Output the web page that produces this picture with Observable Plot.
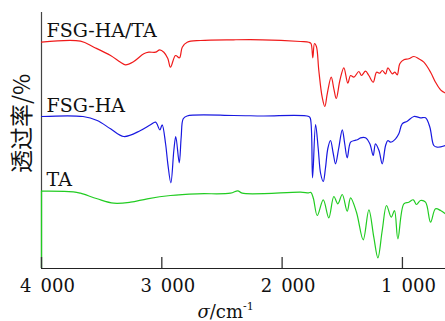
<!DOCTYPE html>
<html>
<head>
<meta charset="utf-8">
<script src="https://cdn.jsdelivr.net/npm/d3@7"></script>
<script src="https://cdn.jsdelivr.net/npm/@observablehq/plot@0.6"></script>
<style>
  html, body { margin: 0; padding: 0; background: #fff; }
  svg { display: block; }
</style>
</head>
<body>
<div id="chart"></div>
<script>
// Series names, colours
const seriesNames = ["FSG-HA/TA", "FSG-HA", "TA"];
const seriesColors = ["#f01a1a", "#1818e0", "#22cc22"];

// FSG-HA/TA (offset trace, arbitrary transmittance units)
const wnRed = [4000, 3676, 3565, 3426, 3343, 3302, 3233, 3150, 3108, 3052, 3017, 2983, 2950, 2928, 2886, 2853, 2830, 2789, 2678, 2404, 2165, 1847, 1778, 1760, 1745, 1731, 1715, 1695, 1667, 1645, 1625, 1592, 1570, 1550, 1520, 1487, 1454, 1431, 1404, 1362, 1340, 1307, 1279, 1243, 1215, 1188, 1168, 1140, 1121, 1085, 1063, 1043, 1022, 988, 947, 905, 864, 822, 766, 725, 683, 642];
const tRed  = [226.3, 227.3, 221.3, 213, 206.3, 203.7, 207, 214.7, 216.3, 216.3, 218.7, 216.3, 210, 201.3, 213, 210.7, 221.3, 226.3, 228, 228.7, 228.7, 227, 226.3, 225, 210.7, 225, 222, 198, 171.3, 162, 174.7, 191.3, 179.7, 170, 188, 200.7, 185.3, 193, 191.3, 197, 193, 197.3, 193, 186.3, 196.3, 195.3, 198, 194.7, 200.7, 194.7, 196.3, 193.7, 204.7, 208.7, 209.7, 212, 209.7, 206.3, 196.3, 186.3, 178.7, 175.3];

// FSG-HA
const wnBlue = [4000, 3655, 3537, 3426, 3316, 3177, 3094, 3052, 3016, 2997, 2969, 2950, 2925, 2900, 2884, 2855, 2839, 2822, 2790, 2404, 2165, 1778, 1765, 1747, 1722, 1700, 1680, 1658, 1640, 1620, 1598, 1575, 1556, 1530, 1500, 1480, 1459, 1431, 1398, 1375, 1348, 1307, 1271, 1243, 1224, 1195, 1168, 1140, 1121, 1099, 1057, 1030, 1002, 960, 905, 850, 808, 772, 739, 711, 642];
const tBlue  = [152, 152, 148, 139.7, 132, 138, 143.7, 146.3, 138.7, 143.7, 125, 104.7, 85.7, 118, 132, 105.7, 131.3, 149.7, 152.5, 153, 152.5, 152, 150, 90.7, 144, 120, 95, 87, 100, 120, 128, 115, 104.7, 120, 138.7, 125, 110.7, 126.3, 128, 128.7, 130.7, 130.7, 124.7, 113, 124.7, 118, 104.7, 123, 128, 126.3, 129.7, 134.7, 144.7, 147.3, 152, 150.7, 150.7, 141.3, 123, 121.3, 123];

// TA
const wnGreen = [4000, 3735, 3676, 3537, 3399, 3260, 3121, 2928, 2706, 2429, 2368, 2332, 1847, 1780, 1760, 1740, 1708, 1658, 1612, 1570, 1537, 1500, 1459, 1431, 1382, 1326, 1279, 1238, 1204, 1168, 1132, 1093, 1066, 1038, 988, 947, 910, 883, 850, 808, 766, 725, 683, 642];
const tGreen  = [77.3, 76.7, 75.3, 69.7, 65.3, 66.3, 69.7, 73, 74.7, 75.3, 77.7, 75.3, 76.3, 75.7, 76, 70, 53, 68.7, 50.7, 72, 64.7, 74, 57.3, 70.7, 56.3, 28.7, 58.7, 31.3, 10.7, 38, 63, 51.3, 58, 29.7, 64.7, 66.3, 68.7, 64, 68, 66.3, 46.3, 59.7, 58, 54.7];

// Axis ticks and labels
const xTicks = [4000, 3000, 2000, 1000];
const xDomain = [4000, 642];
const yDomain = [0, 256];
const yLabel = "透过率/%";
const xLabel = "σ/cm-1";

const series = [
  {name: seriesNames[0], wn: wnRed, t: tRed},
  {name: seriesNames[1], wn: wnBlue, t: tBlue},
  {name: seriesNames[2], wn: wnGreen, t: tGreen}
];
const rows = [];
series.forEach(s => s.wn.forEach((w, i) => rows.push({series: s.name, wn: w, t: s.t[i]})));
const labelRows = series.map(s => ({series: s.name, wn: s.wn[0], t: s.t[0]}));
const tickRows = xTicks.map(v => ({wn: v}));

const fmt = d => d3.format(",")(d).replace(",", "\u2002");
const FF = "DejaVu Serif";
const FFCJK = "Noto Sans CJK SC";

const chart = Plot.plot({
  width: 445,
  height: 321,
  marginLeft: 41,
  marginRight: 0,
  marginTop: 12,
  marginBottom: 53,
  style: {fontFamily: FF, fontSize: "18px", background: "#fff", color: "#111"},
  x: {domain: xDomain, axis: null},
  y: {domain: yDomain, axis: null},
  color: {domain: seriesNames, range: seriesColors},
  marks: [
    Plot.ruleX([xDomain[0]], {stroke: "#444", strokeWidth: 1.2}),
    // green trace starts from the baseline at the left edge
    Plot.ruleX([labelRows[2]], {x: "wn", y1: yDomain[0], y2: "t", stroke: seriesColors[2], strokeWidth: 1.3}),
    Plot.ruleY([yDomain[0]], {stroke: "#222", strokeWidth: 1.2}),
    Plot.ruleX(tickRows, {x: "wn", y1: () => yDomain[0], y2: () => yDomain[0] + 11, stroke: "#333", strokeWidth: 1.3}),
    Plot.line(rows, {x: "wn", y: "t", z: "series", stroke: "series", strokeWidth: 1.2, curve: "catmull-rom"}),
    Plot.axisX({ticks: xTicks, tickSize: 0, tickPadding: 11, tickFormat: fmt, label: null, fontSize: 18, fontFamily: FF, dx: 6, fill: "#111"}),
    Plot.text(labelRows, {x: "wn", y: "t", text: "series", textAnchor: "start", lineAnchor: "bottom", dx: 5, dy: -5, fontSize: 19, fontFamily: FF, fill: "#111"}),
    Plot.text([yLabel], {frameAnchor: "left", textAnchor: "middle", rotate: -90, dx: -19, dy: -17, fontSize: 23, fontFamily: FFCJK, fill: "#111"}),
    Plot.text([xLabel], {frameAnchor: "bottom", textAnchor: "start", lineAnchor: "bottom", dx: -46, dy: 49, fontSize: 18, fontFamily: FF, fill: "#111", className: "xlabel"})
  ]
});
// style the x label: italic sigma and superscript exponent
d3.select(chart).selectAll(".xlabel text").each(function () {
  const t = d3.select(this);
  t.text(null);
  t.append("tspan").attr("font-style", "italic").text("σ");
  t.append("tspan").text("/cm");
  t.append("tspan").attr("font-size", 11).attr("dy", -8).text("-1");
});
document.getElementById("chart").appendChild(chart);
</script>
</body>
</html>
